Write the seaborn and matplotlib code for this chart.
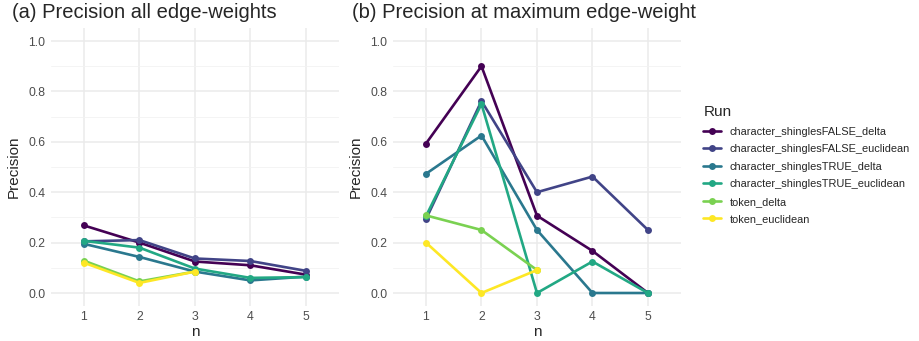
import pandas as pd
import matplotlib.pyplot as plt
import seaborn as sns

# Datos
runs = ["character_shinglesFALSE_delta", "character_shinglesFALSE_euclidean",
        "character_shinglesTRUE_delta", "character_shinglesTRUE_euclidean",
        "token_delta", "token_euclidean"]
n_vals = [1, 2, 3, 4, 5]

# (a) precision con todos los pesos
prec_all_false_delta = [0.268, 0.200, 0.125, 0.110, 0.073]
prec_all_false_eucl = [0.205, 0.210, 0.137, 0.127, 0.088]
prec_all_true_delta = [0.195, 0.143, 0.085, 0.050, 0.065]
prec_all_true_eucl = [0.207, 0.180, 0.097, 0.060, 0.063]
prec_all_token_delta = [0.128, 0.046, 0.085]
prec_all_token_eucl = [0.120, 0.040, 0.085]

# (b) precision al peso maximo
prec_max_false_delta = [0.593, 0.900, 0.307, 0.167, 0.000]
prec_max_false_eucl = [0.293, 0.762, 0.400, 0.462, 0.250]
prec_max_true_delta = [0.473, 0.625, 0.250, 0.000, 0.000]
prec_max_true_eucl = [0.305, 0.750, 0.000, 0.125, 0.000]
prec_max_token_delta = [0.308, 0.250, 0.091]
prec_max_token_eucl = [0.200, 0.000, 0.091]


def build(series):
    rows = []
    for run, vals in zip(runs, series):
        for n, v in zip(n_vals, vals):
            rows.append({"Run": run, "n": n, "Precision": v})
    return pd.DataFrame(rows)


df_all = build([prec_all_false_delta, prec_all_false_eucl, prec_all_true_delta,
                prec_all_true_eucl, prec_all_token_delta, prec_all_token_eucl])
df_max = build([prec_max_false_delta, prec_max_false_eucl, prec_max_true_delta,
                prec_max_true_eucl, prec_max_token_delta, prec_max_token_eucl])

colors = ["#440154", "#414487", "#2A788E", "#22A884", "#7AD151", "#FDE725"]
palette = dict(zip(runs, colors))

sns.set_style("white")
plt.rcParams['font.family'] = ['Liberation Sans', 'DejaVu Sans']

fig = plt.figure(figsize=(9.19, 3.41), dpi=100)
ax1 = fig.add_axes([0.0552, 0.1038, 0.3137, 0.8129])
ax2 = fig.add_axes([0.4273, 0.1038, 0.3140, 0.8129])

for ax, df in [(ax1, df_all), (ax2, df_max)]:
    sns.lineplot(data=df, x="n", y="Precision", hue="Run", palette=palette,
                 hue_order=runs, marker="o", markersize=5, markeredgewidth=0,
                 linewidth=1.9, ax=ax, legend=(ax is ax2), zorder=3)
    ax.set_xlim(0.4, 5.6)
    ax.set_ylim(-0.05, 1.05)
    ax.set_xticks(n_vals)
    ax.set_yticks([0.0, 0.2, 0.4, 0.6, 0.8, 1.0])
    ax.set_yticks([0.1, 0.3, 0.5, 0.7, 0.9], minor=True)
    ax.set_yticklabels(["0.0", "0.2", "0.4", "0.6", "0.8", "1.0"])
    ax.grid(True, which="major", color="#EBEBEB", linewidth=1.1, zorder=0)
    ax.grid(True, which="minor", axis="y", color="#F2F2F2", linewidth=0.6, zorder=0)
    ax.tick_params(axis="both", which="both", length=0, labelsize=8.8,
                   labelcolor="#4D4D4D", pad=4)
    for s in ax.spines.values():
        s.set_visible(False)
    ax.set_xlabel("n", fontsize=11, labelpad=1)
    ax.set_ylabel("Precision", fontsize=11, labelpad=5)
    ax.set_axisbelow(True)

fig.text(12 / 919, 1 - 13 / 341, "(a) Precision all edge-weights", fontsize=14.5,
         ha="left", va="center")
fig.text(352 / 919, 1 - 13 / 341, "(b) Precision at maximum edge-weight", fontsize=14.5,
         ha="left", va="center")

handles, labels = ax2.get_legend_handles_labels()
ax2.get_legend().remove()
leg = fig.legend(handles, labels, title="Run", loc="upper left",
                 bbox_to_anchor=(699 / 919, 1 - 101 / 341), frameon=False,
                 fontsize=7.9, title_fontsize=11, handlelength=1.6,
                 labelspacing=0.68, handletextpad=0.8, borderaxespad=0)
leg._legend_box.align = "left"

fig.savefig("out.png", dpi=100, facecolor="white")
